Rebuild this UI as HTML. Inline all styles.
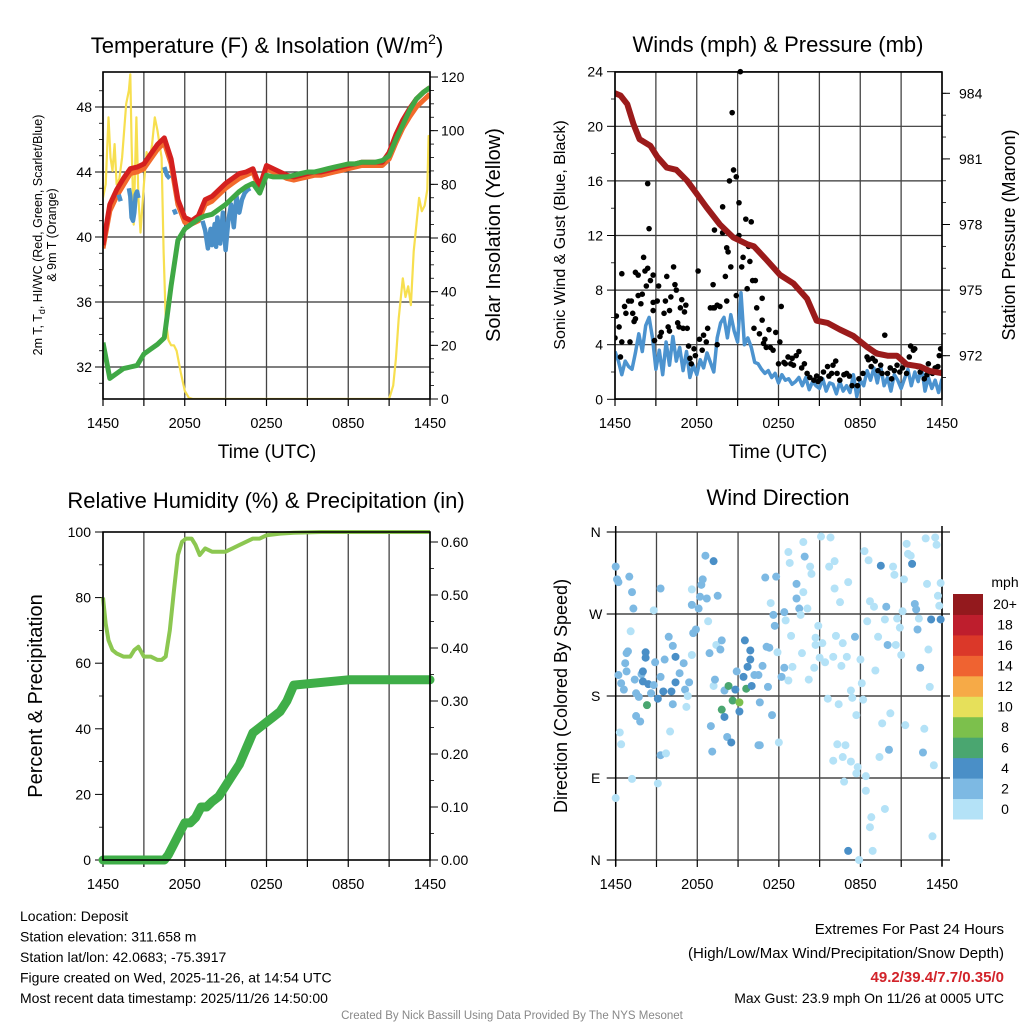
<!DOCTYPE html>
<html><head><meta charset="utf-8"><style>
html,body{margin:0;padding:0;background:#fff;}
svg{display:block;font-family:"Liberation Sans",Arial,sans-serif;}
</style></head><body>
<svg id="c" width="1024" height="1024" viewBox="0 0 1024 1024"></svg>
<script>
// ---------- DATA ----------
const tHalf = Array.from({length:49},(_,i)=>i*0.5);
const tempRed = [39.5,42.0,42.9,43.6,44.2,44.3,44.5,45.1,45.7,46.1,44.8,42.3,41.2,41.0,41.3,42.3,42.5,42.9,43.3,43.6,43.9,44.0,44.2,43.1,44.4,44.2,44.0,43.8,43.7,43.8,43.9,44.0,44.0,44.1,44.2,44.3,44.4,44.5,44.6,44.6,44.6,44.6,45.2,46.3,47.2,47.9,48.5,48.9,49.2];
const tempOrange = [39.3,41.6,42.5,43.2,43.9,44.0,44.2,44.8,45.4,45.8,44.5,42.0,40.9,40.8,41.0,42.0,42.2,42.6,43.0,43.3,43.6,43.8,44.0,42.9,44.2,44.0,43.8,43.6,43.5,43.6,43.7,43.8,43.8,43.9,44.0,44.1,44.2,44.3,44.4,44.4,44.4,44.4,44.8,45.8,46.7,47.4,48.0,48.4,48.8];
const dewGreen = [33.5,31.3,31.6,31.9,32.0,32.1,32.8,33.1,33.4,33.8,37.0,39.8,40.5,40.8,41.1,41.3,41.4,41.7,42.0,42.4,42.8,43.1,43.3,42.7,43.8,43.7,43.7,43.7,43.8,43.9,44.0,44.0,44.1,44.2,44.3,44.4,44.5,44.5,44.6,44.6,44.6,44.7,45.0,46.0,46.9,47.8,48.5,48.9,49.2];
const chillTimes = [1.15,1.3,null,1.9,2.0,2.1,2.2,2.3,2.4,2.5,2.6,null,4.5,4.7,4.9,null,5.2,5.35,null,7.3,7.5,7.7,7.9,8.0,8.2,8.3,8.4,8.6,8.8,9.0,9.2,9.4,9.6,9.8,10.0,10.2,10.4,10.6,10.8];
const chillBlue = [42.6,42.2,null,43.0,42.5,41.2,41.0,41.5,42.6,42.8,42.4,null,44.3,43.8,43.6,null,41.7,41.4,null,41.0,40.4,39.3,40.5,39.5,40.8,39.4,41.2,39.6,41.5,39.2,41.0,42.0,40.6,42.5,41.5,42.3,42.7,42.9,43.0];
const insolTimes = [0,0.2,0.4,0.55,0.7,0.85,1.0,1.2,1.4,1.7,1.9,2.0,2.1,2.25,2.45,2.6,2.75,3.0,3.2,3.4,3.6,3.8,4.0,4.15,4.3,4.45,4.6,4.8,5.0,5.2,5.4,5.7,6.0,6.3,6.6,7,10,15,20,21.0,21.3,21.5,21.7,22.0,22.2,22.4,22.6,22.8,23.0,23.2,23.4,23.6,23.8,23.9,24];
const insolValues = [75,80,105,90,85,95,80,82,90,110,115,121,95,65,105,75,62,80,92,88,95,105,100,95,90,55,30,22,20,20,18,10,3,0.5,0,0,0,0,0,0,5,15,30,45,38,42,35,55,65,75,70,72,78,98,95];

const pressTimes = [0,0.4,0.9,1.35,1.8,2.6,3.1,3.8,4.5,5.3,6.0,6.7,7.7,8.7,9.7,10.2,11.1,12.1,13.1,14.1,14.8,15.6,16.5,17.5,18.5,19.2,20.0,20.7,21.4,22.4,23.1,24];
const pressValues = [984.0,983.9,983.5,982.6,981.9,981.6,981.1,980.6,980.5,980.0,979.4,978.8,978.0,977.4,977.1,977.0,976.4,975.7,975.3,974.6,973.6,973.5,973.2,972.9,972.4,972.1,972.0,972.0,971.6,971.5,971.3,971.2];
const tQuarter = Array.from({length:97},(_,i)=>i*0.25);
const sonicWind = [3.5,2.8,1.8,2.8,2.4,2.2,3.4,4.8,3.5,5.4,6.0,4.5,2.2,3.6,1.8,4.2,2.5,4.6,2.8,3.8,2.1,3.5,1.6,2.5,1.8,2.9,2.3,3.4,2.7,2.0,4.5,5.6,6.0,4.5,6.2,5.0,4.2,7.8,4.0,4.5,3.8,2.7,2.6,2.2,1.9,2.1,1.6,1.9,1.2,1.8,1.4,1.5,1.1,1.3,1.6,1.0,1.6,0.7,1.3,1.0,0.8,1.5,0.6,1.2,1.1,0.4,1.3,0.6,1.0,0.5,1.8,0.2,1.4,1.0,2.1,1.4,2.3,1.2,2.4,1.0,1.6,0.6,1.8,1.4,0.8,1.5,2.2,1.0,2.0,1.3,2.4,0.6,1.6,0.8,1.4,0.5,1.5];
const gustTimes = [0,0.1,0.3,0.4,0.5,0.5,0.7,0.8,1.0,1.2,1.1,1.3,1.4,1.5,1.5,1.7,1.7,1.9,2.0,2.1,2.2,2.3,2.4,2.4,2.5,2.6,2.8,2.8,2.8,2.9,3.1,3.2,3.3,3.4,3.6,3.7,3.8,3.9,4.0,4.0,4.1,4.3,4.4,4.5,4.6,4.7,4.8,4.9,5.0,5.1,5.2,5.3,5.4,5.5,5.6,5.8,5.9,6.1,6.2,6.4,6.5,6.7,6.8,7.0,7.2,7.2,7.3,7.5,7.5,7.7,7.3,7.9,7.9,8.1,8.2,8.2,8.3,8.4,8.5,8.6,8.7,8.9,8.9,9.1,9.1,9.2,9.3,9.4,9.6,9.7,9.8,9.9,10.0,10.1,10.2,10.3,10.4,10.6,10.8,10.8,10.9,11.0,11.1,11.3,11.4,11.6,11.8,12.0,12.1,12.2,12.4,12.5,12.7,12.9,13.0,13.1,13.3,13.5,13.7,13.9,14.1,14.3,14.6,14.8,14.9,15.1,15.3,15.6,15.7,15.9,16.0,16.2,16.3,16.5,16.8,17.0,17.2,17.4,17.8,17.9,18.2,18.5,18.6,18.8,18.9,19.1,19.2,19.3,19.5,19.6,19.8,20.0,20.2,20.3,20.5,20.7,20.9,21.1,21.4,21.6,21.7,21.9,22.0,22.2,22.4,22.5,22.7,22.9,23.0,23.3,23.5,23.7,23.8,23.9,24.0];
const gustValues = [4.5,6.1,5.3,3.1,4.2,9.2,6.8,6.3,7.2,7.2,4.2,6.3,5.7,5.9,9.3,9.1,7.6,7.0,7.7,10.4,9.4,8.3,15.8,9.6,12.5,8.7,6.5,7.1,9.1,4.3,7.2,8.3,4.6,4.9,6.3,7.2,9.0,5.3,5.0,6.5,7.5,9.7,8.4,8.0,5.6,5.3,6.7,7.3,5.2,6.4,6.9,5.2,3.9,3.0,2.6,3.7,3.2,9.4,4.4,3.6,4.7,4.2,5.2,6.7,8.4,6.7,6.7,4.0,6.9,6.8,12.4,14.1,12.2,9.0,7.2,11.1,10.8,16.0,9.7,21.0,16.8,16.3,7.6,12.0,14.4,24.0,9.7,10.4,13.2,8.1,11.2,10.1,13.0,8.7,5.2,8.7,6.7,4.8,5.8,7.4,4.1,4.4,3.8,5.1,3.8,3.6,4.9,2.6,4.2,6.8,2.7,2.6,3.1,2.6,3.0,2.5,3.2,3.5,2.3,2.6,1.9,1.6,1.4,1.7,1.3,1.5,2.0,2.4,1.7,1.9,2.5,2.8,1.9,1.4,1.8,1.9,1.7,1.0,1.0,1.5,1.9,3.1,2.9,2.4,3.0,2.8,3.4,2.1,2.5,1.9,4.7,1.9,2.3,1.5,2.1,2.5,2.0,2.3,1.9,3.1,3.9,3.6,3.7,2.4,2.0,2.3,1.5,1.8,2.6,1.9,2.3,2.4,3.2,3.7,2.0];

const rhTimes = [0,0.2,0.4,0.7,1,1.5,2,2.3,2.6,3,3.5,4,4.3,4.6,4.9,5.2,5.5,5.8,6.1,6.5,6.8,7.1,7.5,8,8.5,9,9.5,10,10.5,11,11.5,12,13,14,16,20,24];
const rhValues = [80,72,67,64,63,62,62,64,65,62,62,61,61,62,70,82,93,97,98,98,96,93,95,94,94,94,95,96,97,98,98,99,99.5,99.8,100,100,100];
const precipTimes = [0,4.5,4.8,5.2,5.6,6.0,6.4,6.8,7.2,7.6,8.0,8.5,9.0,9.5,10,10.5,11,11.5,12,12.5,13,13.5,14,18,24];
const precipValues = [0,0,0.01,0.03,0.05,0.07,0.07,0.08,0.10,0.10,0.11,0.12,0.14,0.16,0.18,0.21,0.24,0.25,0.26,0.27,0.28,0.30,0.33,0.34,0.34];

const dirHours = [0,0.1,0.2,1.0,1.2,1.3,1.1,3.3,2.8,0.2,0.4,0.6,0.7,0.8,0.9,0.8,1.4,1.5,1.7,1.9,2.0,2.2,2.2,2.4,2.0,2.3,2.6,2.8,2.9,3.1,3.3,3.5,3.6,3.9,4.1,4.2,4.4,4.4,4.2,4.7,5.0,5.1,5.3,5.4,5.2,5.6,5.7,5.9,5.6,5.6,6.1,6.2,6.3,6.4,6.6,6.7,6.8,6.9,7.2,7.3,7.4,7.7,7.8,7.5,7.2,7.8,8.0,8.0,8.2,8.3,8.5,8.6,8.8,8.9,9.1,9.1,9.4,9.5,9.6,9.7,9.9,9.9,10.0,10.2,10.5,10.6,10.8,11.1,11.2,11.3,11.5,10.6,11.0,11.8,11.4,11.6,11.7,11.9,12.0,12.2,12.4,12.4,12.5,12.7,12.7,12.8,12.9,13.0,13.3,13.3,13.5,13.6,13.7,13.8,13.8,13.9,14.1,14.2,14.3,14.4,14.6,14.7,14.7,14.9,15.0,15.1,15.2,15.4,15.6,15.7,15.8,16.0,16.1,16.1,16.2,16.4,16.5,16.6,16.7,17.0,17.1,17.3,17.4,17.6,17.7,17.8,18.0,18.1,18.2,18.3,18.4,18.5,18.6,18.7,18.8,18.9,19.0,19.1,19.3,19.4,19.5,19.6,19.8,19.8,19.9,20.0,20.1,20.2,20.4,20.5,20.6,20.7,20.9,21.0,21.1,21.2,21.3,21.4,21.5,21.7,21.8,22.0,22.1,22.2,22.3,22.4,22.6,22.7,22.8,22.9,23.0,23.1,23.2,23.3,23.4,23.5,23.6,23.7,23.8,23.9,23.9,17.1,17.9,16.8,17.3,17.7,16.0,16.3,16.9,16.7,18.4,18.7,0.0,1.2,3.1,0.3,0.4,1.5,1.8,3.3,3.7,4.0,7.1,7.0,10.5];
const dirDegrees = [322,308,305,311,294,276,251,298,274,203,194,187,216,227,229,207,198,183,179,204,207,228,222,193,196,170,183,192,217,177,201,185,220,245,185,235,195,223,171,205,216,187,180,195,168,225,249,253,280,297,276,289,302,308,334,287,262,227,191,198,236,231,241,290,328,165,186,157,135,191,129,175,187,207,173,163,201,241,188,212,230,220,191,203,203,173,213,234,190,233,159,126,310,311,282,269,257,228,129,201,211,272,263,197,338,326,246,212,303,287,276,269,227,294,349,333,276,198,322,314,211,244,236,257,222,355,238,217,177,322,354,223,328,298,246,171,283,213,238,223,305,186,178,245,159,102,220,194,176,339,92,262,329,284,47,10,278,208,245,113,323,150,264,56,278,236,121,161,322,313,236,265,255,225,273,308,148,347,336,334,325,281,275,253,265,211,118,144,353,303,231,190,264,26,104,354,346,290,279,304,264,10,0,86,108,95,109,127,126,113,76,36,68,89,84,140,127,158,152,115,117,141,119,147,126];
const dirSpeeds = [3,3,3,3,3,3,1,3,1,3,3,3,3,3,3,3,3,3,3,3,5,5,5,5,5,7,3,3,3,5,3,5,3,3,5,3,5,5,3,3,3,3,1,3,1,1,3,3,3,1,3,3,3,3,3,3,1,3,1,3,1,3,3,3,5,7,3,5,3,7,5,7,5,3,9,5,5,5,7,5,5,5,5,3,3,3,3,3,3,3,3,3,3,3,1,3,3,1,1,3,3,3,1,1,1,1,1,1,3,3,3,1,1,1,1,3,1,1,1,1,1,1,1,1,1,1,1,1,1,1,1,1,1,1,1,1,1,1,1,1,1,1,1,3,1,1,1,1,1,1,1,1,1,1,1,1,1,1,1,1,5,1,1,1,3,3,3,1,1,1,1,1,1,1,1,1,1,1,1,1,5,3,3,3,1,3,3,1,1,1,1,1,5,1,1,1,1,1,1,1,5,5,1,1,1,1,1,1,1,1,1,1,1,1,1,1,1,3,3,3,1,1,3,3,3,5,3,3,3,3];
const speedBinLabels = ["0","2","4","6","8","10","12","14","16","18","20+"];
const speedColors = ["#b4e2f7","#7db9e3","#4a8fc7","#4aa670","#7cc04c","#e6e05a","#f6aa47","#ef6331","#db3829","#be1e2d","#93191d"];

const timeTickLabels = ["1450","2050","0250","0850","1450"];
const tempTicks = [32,36,40,44,48];
const insolTicks = [0,20,40,60,80,100,120];
const windTicks = [0,4,8,12,16,20,24];
const pressTicks = [972,975,978,981,984];
const rhTicks = [0,20,40,60,80,100];
const precipTicks = [0,0.1,0.2,0.3,0.4,0.5,0.6];
const dirTicks = [0,90,180,270,360];
const dirTickLabels = ["N","E","S","W","N"];

// ---------- HELPERS ----------
const svg = document.getElementById('c');
const NS = 'http://www.w3.org/2000/svg';
function el(tag, attrs, parent){ const e=document.createElementNS(NS,tag); for(const k in attrs) e.setAttribute(k,attrs[k]); (parent||svg).appendChild(e); return e; }
function txt(s, x, y, size, anchor, parent, extra){ const t=el('text',Object.assign({x:x,y:y,'font-size':size,'text-anchor':anchor||'start',fill:'#000'},extra||{}),parent); t.textContent=s; return t; }
function linear(d0,d1,r0,r1){ return v=>r0+(v-d0)*(r1-r0)/(d1-d0); }
function pathFrom(xs, ys, xf, yf){ let d='', pen=false; for(let i=0;i<xs.length;i++){ if(xs[i]==null||ys[i]==null){pen=false;continue;} d+=(pen?'L':'M')+xf(xs[i]).toFixed(1)+','+yf(ys[i]).toFixed(1); pen=true; } return d; }

function timeAxis(g, xf, yb, yt, showGrid){
  for(let h=0;h<=24;h+=3){
    const x=xf(h);
    if(showGrid){ const gl=el('line',{x1:x,y1:yt,x2:x,y2:yb,stroke:'#444','stroke-width':1.3},g);   }
    el('line',{x1:x,y1:yb,x2:x,y2:yb+7,stroke:'#000','stroke-width':1.2},g);
  }
  timeTickLabels.forEach((s,i)=>{ const t=txt(s,xf(i*6),yb+29,14.5,'middle',g);   });
}
function frame(g,x0,y0,x1,y1){ const r=el('rect',{x:x0,y:y0,width:x1-x0,height:y1-y0,fill:'none',stroke:'#000','stroke-width':1.6},g);   }

// ================= PANEL 1: Temperature =================
{
const g=el('g',{});  
const X0=103,X1=430,Y0=72,Y1=399;
const x=linear(0,24,X0,X1), yT=linear(48,32,107,367), yI=linear(0,120,399,77);
const tt=el('text',{x:267,y:53,'font-size':22,'text-anchor':'middle'},g); tt.innerHTML='Temperature (F) &amp; Insolation (W/m<tspan font-size="14" dy="-9">2</tspan><tspan dy="9">)</tspan>';
 
tempTicks.forEach(v=>{ el('line',{x1:X0,y1:yT(v),x2:X1,y2:yT(v),stroke:'#333','stroke-width':1.2},g); el('line',{x1:X0-8,y1:yT(v),x2:X0,y2:yT(v),stroke:'#000'},g); const t=txt(String(v),X0-11,yT(v)+5,14,'end',g);   });
for(let v=31;v<=49;v++){ if(yT(v)>Y0&&yT(v)<Y1) el('line',{x1:X0-4,y1:yT(v),x2:X0,y2:yT(v),stroke:'#000','stroke-width':0.8},g); }
insolTicks.forEach(v=>{ el('line',{x1:X1,y1:yI(v),x2:X1+8,y2:yI(v),stroke:'#000'},g); const t=txt(String(v),X1+11,yI(v)+5,14,'start',g);   });
for(let v=5;v<=120;v+=5){ el('line',{x1:X1,y1:yI(v),x2:X1+4,y2:yI(v),stroke:'#000','stroke-width':0.8},g); }
timeAxis(g,x,Y1,Y0,true);
const yl=el('text',{transform:'translate(42,235) rotate(-90)','font-size':12.5,'text-anchor':'middle'},g); yl.innerHTML='2m T, T<tspan font-size="9" dy="3">d</tspan><tspan dy="-3">, HI/WC (Red, Green, Scarlet/Blue)</tspan>';
 
const yl2=txt('& 9m T (Orange)',0,0,12.5,'middle',g,{transform:'translate(56,235) rotate(-90)'});  
const yr=txt('Solar Insolation (Yellow)',0,0,20,'middle',g,{transform:'translate(500,235) rotate(-90)'});  
const xl=txt('Time (UTC)',267,458,19,'middle',g);  
const cp=el('clipPath',{id:'cp1'},g); el('rect',{x:X0,y:Y0,width:X1-X0,height:Y1-Y0},cp);
const pg=el('g',{'clip-path':'url(#cp1)'},g);
const ins=el('path',{d:pathFrom(insolTimes,insolValues,x,yI),fill:'none',stroke:'#f7df4f','stroke-width':2.2,'stroke-linejoin':'round'},pg);  
const lo=el('path',{d:pathFrom(tHalf,tempOrange,x,yT),fill:'none',stroke:'#f26a2c','stroke-width':5,'stroke-linejoin':'round'},pg);  
const lr=el('path',{d:pathFrom(tHalf,tempRed,x,yT),fill:'none',stroke:'#d4201f','stroke-width':5,'stroke-linejoin':'round'},pg);  
const lb=el('path',{d:pathFrom(chillTimes,chillBlue,x,yT),fill:'none',stroke:'#4a8fc8','stroke-width':4.5,'stroke-linejoin':'round'},pg);  
const lgr=el('path',{d:pathFrom(tHalf,dewGreen,x,yT),fill:'none',stroke:'#3fa845','stroke-width':5,'stroke-linejoin':'round'},pg);  
frame(g,X0,Y0,X1,Y1);
}

// ================= PANEL 2: Winds =================
{
const g=el('g',{});  
const X0=615,X1=942,Y0=72,Y1=399;
const x=linear(0,24,X0,X1), yW=linear(0,24,399.3,71.7), yP=linear(984,972,93.3,355.7);
const tt=txt('Winds (mph) & Pressure (mb)',778,52,22,'middle',g);  
windTicks.forEach(v=>{ el('line',{x1:X0,y1:yW(v),x2:X1,y2:yW(v),stroke:'#333','stroke-width':1.2},g); el('line',{x1:X0-8,y1:yW(v),x2:X0,y2:yW(v),stroke:'#000'},g); const t=txt(String(v),X0-12,yW(v)+5,14,'end',g);   });
for(let v=2;v<24;v+=4) el('line',{x1:X0-4,y1:yW(v),x2:X0,y2:yW(v),stroke:'#000','stroke-width':0.8},g);
pressTicks.forEach(v=>{ el('line',{x1:X1,y1:yP(v),x2:X1+8,y2:yP(v),stroke:'#000'},g); const t=txt(String(v),X1+17,yP(v)+5,14,'start',g);   });
for(let v=971;v<=985;v++) if(yP(v)>Y0&&yP(v)<Y1) el('line',{x1:X1,y1:yP(v),x2:X1+4,y2:yP(v),stroke:'#000','stroke-width':0.8},g);
timeAxis(g,x,Y1,Y0,true);
const yl=txt('Sonic Wind & Gust (Blue, Black)',0,0,16,'middle',g,{transform:'translate(565,235) rotate(-90)'});  
const yr=txt('Station Pressure (Maroon)',0,0,18,'middle',g,{transform:'translate(1015,235) rotate(-90)'});  
const xl=txt('Time (UTC)',778,458,19,'middle',g);  
const cp=el('clipPath',{id:'cp2'},g); el('rect',{x:X0,y:Y0-4,width:X1-X0,height:Y1-Y0+4},cp);
const pg=el('g',{'clip-path':'url(#cp2)'},g);
const sw=el('path',{d:pathFrom(tQuarter,sonicWind,x,yW),fill:'none',stroke:'#4c93cf','stroke-width':3.5,'stroke-linejoin':'round'},pg);  
gustTimes.forEach((h,i)=>{ const c=el('circle',{cx:x(h),cy:yW(gustValues[i]),r:2.8,fill:'#000'},pg);   });
const pl=el('path',{d:pathFrom(pressTimes,pressValues,x,yP),fill:'none',stroke:'#9b1b1b','stroke-width':6,'stroke-linejoin':'round','stroke-linecap':'round'},pg);  
frame(g,X0,Y0,X1,Y1);
}

// ================= PANEL 3: RH & Precip =================
{
const g=el('g',{});  
const X0=103,X1=430,Y0=532,Y1=860;
const x=linear(0,24,X0,X1), yR=linear(0,100,860,532), yPr=linear(0,0.6,860,542);
const tt=txt('Relative Humidity (%) & Precipitation (in)',266,508,22,'middle',g);  
rhTicks.forEach(v=>{ el('line',{x1:X0-8,y1:yR(v),x2:X0,y2:yR(v),stroke:'#000'},g); const t=txt(String(v),X0-12,yR(v)+5,14,'end',g);   });
for(let v=10;v<100;v+=20) el('line',{x1:X0-4,y1:yR(v),x2:X0,y2:yR(v),stroke:'#000','stroke-width':0.8},g);
precipTicks.forEach(v=>{ el('line',{x1:X1,y1:yPr(v),x2:X1+8,y2:yPr(v),stroke:'#000'},g); const t=txt(v.toFixed(2),X1+11,yPr(v)+5,14,'start',g);   });
for(let v=0.05;v<0.6;v+=0.1) el('line',{x1:X1,y1:yPr(v),x2:X1+4,y2:yPr(v),stroke:'#000','stroke-width':0.8},g);
timeAxis(g,x,Y1,Y0,true);
const yl=txt('Percent & Precipitation',0,0,20,'middle',g,{transform:'translate(42,696) rotate(-90)'});  
const cp=el('clipPath',{id:'cp3'},g); el('rect',{x:X0-6,y:Y0-4,width:X1-X0+12,height:Y1-Y0+10},cp);
const pg=el('g',{'clip-path':'url(#cp3)'},g);
const rl=el('path',{d:pathFrom(rhTimes,rhValues,x,yR),fill:'none',stroke:'#8cc751','stroke-width':4,'stroke-linejoin':'round'},pg);  
const pl=el('path',{d:pathFrom(precipTimes,precipValues,x,yPr),fill:'none',stroke:'#3fae48','stroke-width':9,'stroke-linejoin':'round','stroke-linecap':'round'},pg);  
frame(g,X0,Y0,X1,Y1);
}

// ================= PANEL 4: Wind Direction =================
{
const g=el('g',{});  
const X0=615.7,X1=942,Y0=532,Y1=860;
const x=linear(0,24,X0,X1), yD=linear(0,360,860,532);
const tt=txt('Wind Direction',778,505,22,'middle',g);  
dirTicks.forEach((v,i)=>{ el('line',{x1:X0-9,y1:yD(v),x2:X1+8,y2:yD(v),stroke:'#222','stroke-width':1.2},g); const t=txt(dirTickLabels[i],X0-20,yD(v)+5,14,'middle',g);   });
timeAxis(g,x,Y1,Y0,true);
el('line',{x1:X0,y1:Y0-6,x2:X0,y2:Y1+6,stroke:'#000','stroke-width':1.5},g);
el('line',{x1:X1,y1:Y0-6,x2:X1,y2:Y1+6,stroke:'#000','stroke-width':1.5},g);
const yl=txt('Direction (Colored By Speed)',0,0,18,'middle',g,{transform:'translate(567,696) rotate(-90)'});  
dirHours.forEach((h,i)=>{
  const bin=Math.min(10,Math.floor(dirSpeeds[i]/2));
  const c=el('circle',{cx:x(h),cy:yD(dirDegrees[i]),r:4,fill:speedColors[bin]},g);
   
});
// colorbar
const cb=el('g',{},g);  
const bh=(819-594)/11;
speedColors.forEach((c,i)=>{ const r=el('rect',{x:953,y:819-(i+1)*bh,width:30,height:bh+0.5,fill:c},cb);   const t=txt(speedBinLabels[i],1005,819-(i+0.5)*bh+5,14,'middle',cb);   });
const mt=txt('mph',1005,587,14,'middle',cb);  
}

// ================= TEXT BLOCKS =================
{
const g=el('g',{});  
["Location: Deposit","Station elevation: 311.658 m","Station lat/lon: 42.0683; -75.3917","Figure created on Wed, 2025-11-26, at 14:54 UTC","Most recent data timestamp: 2025/11/26 14:50:00"].forEach((s,i)=>{ const t=txt(s,20,921+i*20.5,14,'start',g);   });
const g2=el('g',{});  
let t=txt('Extremes For Past 24 Hours',1004,934,15,'end',g2);  
t=txt('(High/Low/Max Wind/Precipitation/Snow Depth)',1004,958,15,'end',g2);  
t=txt('49.2/39.4/7.7/0.35/0',1004,982,15,'end',g2,{fill:'#d2232a','font-weight':'bold'});  
t=txt('Max Gust: 23.9 mph On 11/26 at 0005 UTC',1004,1003,14,'end',g2);  
t=txt('Created By Nick Bassill Using Data Provided By The NYS Mesonet',512,1019,11.5,'middle',null,{fill:'#888'});  
}
</script>
</body></html>
